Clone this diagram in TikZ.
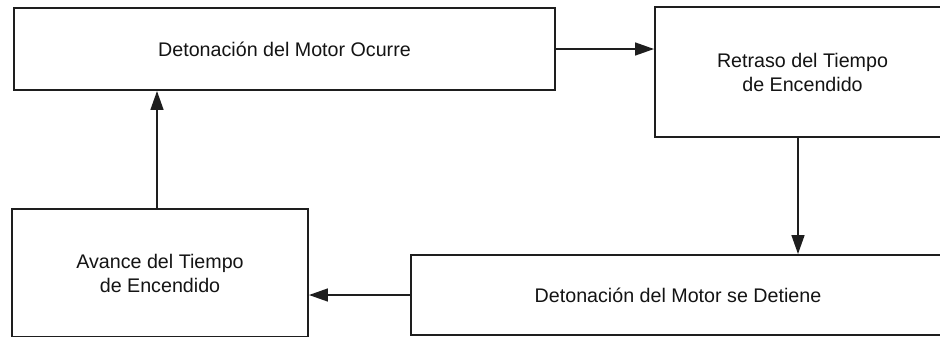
\documentclass[tikz,border=0pt]{standalone}
\usepackage{fontspec}
\setmainfont{Liberation Sans}
\usetikzlibrary{arrows.meta,positioning,calc}
\definecolor{inkline}{RGB}{30,30,30}
\definecolor{inktext}{RGB}{20,20,20}
\tikzset{
  blk/.style={draw=inkline, line width=0.9pt, fill=white, align=center, text=inktext,
              inner sep=0pt, font=\fontsize{11.2}{13.7}\selectfont},
  flowarr/.style={-{Triangle[length=0.38cm, width=0.25cm]}, inkline, line width=1.5pt},
}

\begin{document}
\begin{tikzpicture}[x=0.02cm, y=-0.02cm]
    \useasboundingbox (0,0) rectangle (940,336);
    \clip (0,0) rectangle (940,336);
    \fill[white] (0,0) rectangle (940,336);
    \node[blk, minimum width=541*0.02cm, minimum height=82*0.02cm] (ocurre) at (284.5,49)
      {Detonación del Motor Ocurre};
    \node[blk, minimum width=295*0.02cm, minimum height=130*0.02cm] (retraso) at (802.5,72)
      {Retraso del Tiempo\\de Encendido};
    \node[blk, minimum width=534*0.02cm, minimum height=80*0.02cm] (detiene) at (678,295)
      {Detonación del Motor se Detiene};
    \node[blk, minimum width=296*0.02cm, minimum height=128*0.02cm] (avance) at (160,273)
      {Avance del Tiempo\\de Encendido};
    % ciclo
    \draw[flowarr] (ocurre.east) -- (ocurre.east -| retraso.west);
    \draw[flowarr] ([xshift=-0.09cm]retraso.south) -- ([xshift=-0.09cm]retraso.south |- detiene.north);
    \draw[flowarr] (detiene.west) -- (detiene.west -| avance.east);
    \draw[flowarr] ([xshift=-0.06cm]avance.north) -- ([xshift=-0.06cm]avance.north |- ocurre.south);
\end{tikzpicture}
\end{document}
